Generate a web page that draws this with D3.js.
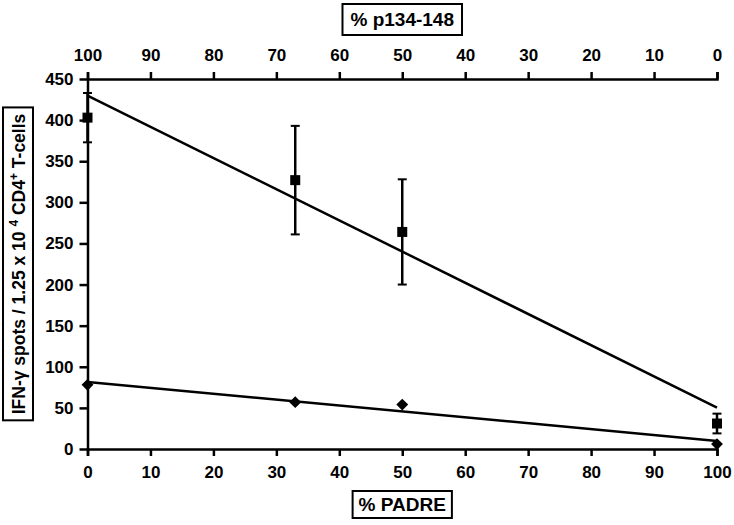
<!DOCTYPE html>
<html>
<head>
<meta charset="utf-8">
<script src="https://cdn.jsdelivr.net/npm/d3@7"></script>
<style>
  body { margin: 0; background: #fff; }
  svg { font-family: "Liberation Sans", Arial, sans-serif; }
  .axis path, .axis line { stroke: #000; stroke-width: 2.5px; }
  .axis text { font-size: 17px; font-weight: bold; fill: #000; }
</style>
</head>
<body>
<div id="chart"></div>
<script>
// data
var padre = [0, 33, 50, 100];                 // % PADRE (bottom axis)
var peptideSpots = [403, 327, 264, 31];       // squares, with error bars
var peptideErr = [30, 66, 64, 12];
var padreSpots = [78, 57, 54, 6];             // diamonds
var xTicks = [0, 10, 20, 30, 40, 50, 60, 70, 80, 90, 100];
var yTicks = [0, 50, 100, 150, 200, 250, 300, 350, 400, 450];

var svgWidth = 734;
var svgHeight = 525;
var margin = { top: 79, right: 17, bottom: 76, left: 87.5 };
var width = svgWidth - margin.left - margin.right;
var height = svgHeight - margin.top - margin.bottom;

var svg = d3.select("#chart")
    .append("svg")
    .attr("width", svgWidth)
    .attr("height", svgHeight);

var g = svg.append("g")
    .attr("transform", `translate(${margin.left}, ${margin.top})`);

var x = d3.scaleLinear().domain([0, 100]).range([0, width]);
var xTop = d3.scaleLinear().domain([100, 0]).range([0, width]);
var y = d3.scaleLinear().domain([0, 450]).range([height, 0]);

// least squares trend line, like the spreadsheet trendline
function trend(xs, ys) {
    var mx = d3.mean(xs), my = d3.mean(ys);
    var sxy = d3.sum(xs, (v, i) => (v - mx) * (ys[i] - my));
    var sxx = d3.sum(xs, v => (v - mx) * (v - mx));
    var b = sxy / sxx, a = my - b * mx;
    return [[0, a], [100, a + b * 100]];
}

// axes
g.append("g")
    .attr("class", "axis")
    .attr("transform", `translate(0, ${height})`)
    .call(d3.axisBottom(x).tickValues(xTicks).tickSize(7).tickPadding(10).tickSizeOuter(7));

g.append("g")
    .attr("class", "axis")
    .call(d3.axisTop(xTop).tickValues(xTicks).tickSize(7).tickPadding(11).tickSizeOuter(7));

g.append("g")
    .attr("class", "axis")
    .call(d3.axisLeft(y).tickValues(yTicks).tickSize(8).tickPadding(6).tickSizeOuter(0));

// trend lines
var line = d3.line().x(d => x(d[0])).y(d => y(d[1]));
[peptideSpots, padreSpots].forEach(function(ys) {
    g.append("path")
        .datum(trend(padre, ys))
        .attr("d", line)
        .attr("fill", "none")
        .attr("stroke", "#000")
        .attr("stroke-width", 2.5);
});

// error bars
var eb = g.selectAll(".err")
    .data(padre)
    .enter()
    .append("g")
    .attr("class", "err");
eb.append("line")
    .attr("x1", d => x(d)).attr("x2", d => x(d))
    .attr("y1", (d, i) => y(peptideSpots[i] + peptideErr[i]))
    .attr("y2", (d, i) => y(peptideSpots[i] - peptideErr[i]))
    .attr("stroke", "#000").attr("stroke-width", 2.5);
[1, -1].forEach(function(s) {
    eb.append("line")
        .attr("x1", d => x(d) - 4.5).attr("x2", d => x(d) + 4.5)
        .attr("y1", (d, i) => y(peptideSpots[i] + s * peptideErr[i]))
        .attr("y2", (d, i) => y(peptideSpots[i] + s * peptideErr[i]))
        .attr("stroke", "#000").attr("stroke-width", 2);
});

// squares
g.selectAll(".sq")
    .data(padre)
    .enter()
    .append("rect")
    .attr("x", d => x(d) - 5)
    .attr("y", (d, i) => y(peptideSpots[i]) - 5)
    .attr("width", 10)
    .attr("height", 10)
    .attr("fill", "#000");

// diamonds
g.selectAll(".dm")
    .data(padre)
    .enter()
    .append("path")
    .attr("d", d3.symbol(d3.symbolDiamond2, 90))
    .attr("transform", (d, i) => `translate(${x(d)}, ${y(padreSpots[i])})`)
    .attr("fill", "#000");

// boxed titles
function boxed(el, pad) {
    var bb = el.node().getBBox();
    el.node().parentNode.insertBefore(
        document.createElementNS("http://www.w3.org/2000/svg", "rect"), el.node());
    d3.select(el.node().previousSibling)
        .attr("x", bb.x - pad[0]).attr("y", bb.y - pad[1])
        .attr("width", bb.width + 2 * pad[0]).attr("height", bb.height + 2 * pad[1])
        .attr("fill", "#fff").attr("stroke", "#000").attr("stroke-width", 2);
}

var topTitle = svg.append("text")
    .attr("x", margin.left + width / 2)
    .attr("y", 26)
    .attr("text-anchor", "middle")
    .attr("font-size", 19)
    .attr("font-weight", "bold")
    .text("% p134-148");
boxed(topTitle, [8, 5]);

var botTitle = svg.append("text")
    .attr("x", margin.left + width / 2)
    .attr("y", 511)
    .attr("text-anchor", "middle")
    .attr("font-size", 19)
    .attr("font-weight", "bold")
    .text("% PADRE");
boxed(botTitle, [6, 3]);

var yg = svg.append("g")
    .attr("transform", "translate(25, 264) rotate(-90)");
var yTitle = yg.append("text")
    .attr("text-anchor", "middle")
    .attr("font-size", 17.5)
    .attr("font-weight", "bold");
yTitle.append("tspan").text("IFN-γ spots / 1.25 x 10 ");
yTitle.append("tspan").attr("baseline-shift", "super").attr("font-size", 12).text("4");
yTitle.append("tspan").text(" CD4");
yTitle.append("tspan").attr("baseline-shift", "super").attr("font-size", 12).text("+");
yTitle.append("tspan").text(" T-cells");
boxed(yTitle, [6, 4]);
</script>
</body>
</html>
